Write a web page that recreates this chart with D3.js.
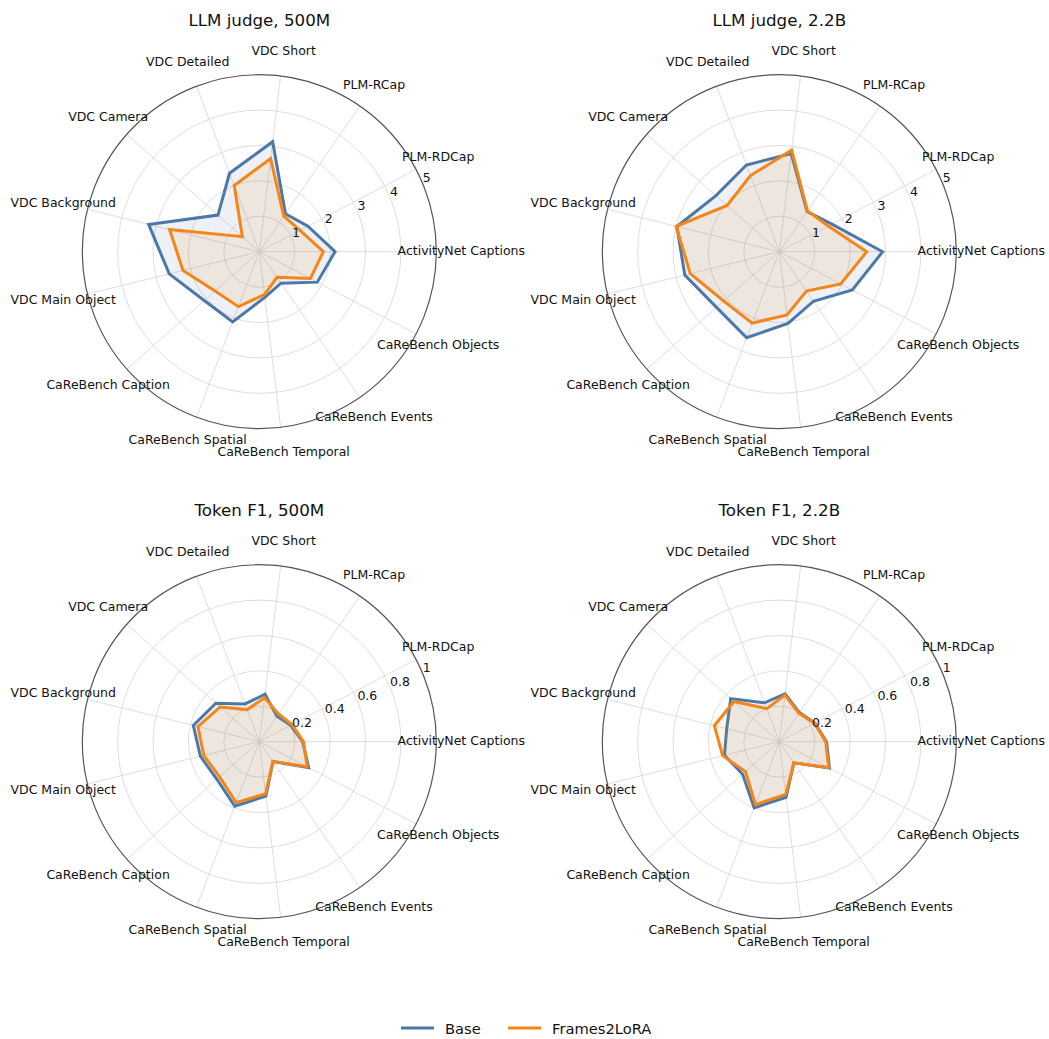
<!DOCTYPE html>
<html>
<head>
<meta charset="utf-8">
<script src="https://d3js.org/d3.v7.min.js"></script>
<style>
  body { margin: 0; background: #fff; }
  text { font-family: 'DejaVu Sans', sans-serif; fill: #111; }
</style>
</head>
<body>
<script>
// axis names, counter-clockwise from 3 o'clock
var axes = ["ActivityNet Captions", "PLM-RDCap", "PLM-RCap", "VDC Short", "VDC Detailed",
  "VDC Camera", "VDC Background", "VDC Main Object", "CaReBench Caption",
  "CaReBench Spatial", "CaReBench Temporal", "CaReBench Events", "CaReBench Objects"];

var seriesNames = ["Base", "Frames2LoRA"];

var llm500Base = [2.14, 1.55, 1.30, 3.13, 2.37, 1.56, 3.22, 2.62, 2.08, 2.12, 1.30, 1.08, 1.85];
var llm500F2L  = [1.81, 1.30, 1.22, 2.65, 2.00, 0.64, 2.61, 2.22, 1.67, 1.66, 1.22, 0.88, 1.63];
var llm22Base  = [2.92, 1.68, 1.38, 2.79, 2.62, 2.39, 2.98, 2.75, 2.37, 2.60, 2.04, 1.70, 2.33];
var llm22F2L   = [2.47, 1.56, 1.40, 2.89, 2.30, 1.97, 3.00, 2.59, 2.10, 2.16, 1.80, 1.35, 1.96];
var tok500Base = [0.245, 0.200, 0.175, 0.270, 0.228, 0.328, 0.384, 0.343, 0.320, 0.390, 0.310, 0.136, 0.315];
var tok500F2L  = [0.250, 0.208, 0.190, 0.250, 0.194, 0.296, 0.357, 0.323, 0.300, 0.368, 0.296, 0.135, 0.305];
var tok22Base  = [0.267, 0.227, 0.200, 0.273, 0.235, 0.367, 0.306, 0.319, 0.277, 0.400, 0.316, 0.145, 0.320];
var tok22F2L   = [0.262, 0.225, 0.195, 0.265, 0.200, 0.343, 0.378, 0.330, 0.255, 0.380, 0.300, 0.145, 0.315];

var llmTicks = [1, 2, 3, 4, 5];
var tokTicks = [0.2, 0.4, 0.6, 0.8, 1];

var panels = [
  {title: "LLM judge, 500M", cx: 259.3, cy: 251.7, max: 5, ticks: llmTicks, series: [llm500Base, llm500F2L]},
  {title: "LLM judge, 2.2B", cx: 779.3, cy: 251.7, max: 5, ticks: llmTicks, series: [llm22Base, llm22F2L]},
  {title: "Token F1, 500M",  cx: 259.3, cy: 741.7, max: 1, ticks: tokTicks, series: [tok500Base, tok500F2L]},
  {title: "Token F1, 2.2B",  cx: 779.3, cy: 741.7, max: 1, ticks: tokTicks, series: [tok22Base, tok22F2L]}
];

var colors = ["#4c78a8", "#f58518"];
var R = 177;
var width = 1049, height = 1039;

var svg = d3.select("body").append("svg")
  .attr("width", width)
  .attr("height", height);

var n = axes.length;
// math angle (ccw from east)
var theta = d3.scaleLinear().domain([0, n]).range([0, 2 * Math.PI]);

panels.forEach(function(p) {
  var r = d3.scaleLinear().domain([0, p.max]).range([0, R]);
  var g = svg.append("g").attr("transform", "translate(" + p.cx + "," + p.cy + ")");

  // rings
  g.selectAll(".ring").data(p.ticks.slice(0, -1)).enter().append("circle")
    .attr("r", function(d) { return r(d); })
    .attr("fill", "none")
    .attr("stroke", "#d9d9d9")
    .attr("stroke-width", 0.9);

  // spokes
  g.selectAll(".spoke").data(axes).enter().append("line")
    .attr("x1", 0).attr("y1", 0)
    .attr("x2", function(d, i) { return R * Math.cos(theta(i)); })
    .attr("y2", function(d, i) { return -R * Math.sin(theta(i)); })
    .attr("stroke", "#d9d9d9")
    .attr("stroke-width", 0.9);

  // series
  var radial = d3.lineRadial()
    .angle(function(d, i) { return Math.PI / 2 - theta(i); })
    .radius(function(d) { return r(d); })
    .curve(d3.curveLinearClosed);

  p.series.forEach(function(vals, k) {
    g.append("path")
      .attr("d", radial(vals))
      .attr("fill", colors[k])
      .attr("fill-opacity", 0.1)
      .attr("stroke", "none");
    g.append("path")
      .attr("d", radial(vals))
      .attr("fill", "none")
      .attr("stroke", colors[k])
      .attr("stroke-width", 3)
      .attr("stroke-linejoin", "miter");
  });

  // outer spine
  g.append("circle").attr("r", R)
    .attr("fill", "none")
    .attr("stroke", "#555")
    .attr("stroke-width", 1.2);

  // radial tick labels at 22.5 deg
  var a = 22.5 * Math.PI / 180;
  g.selectAll(".rlab").data(p.ticks).enter().append("text")
    .attr("x", function(d) { return r(d) * Math.cos(a); })
    .attr("y", function(d) { return -r(d) * Math.sin(a) - 1.5; })
    .attr("text-anchor", "start")
    .style("font-size", "12.5px")
    .text(function(d) { return d3.format("~g")(d); });

  // axis labels
  g.selectAll(".alab").data(axes).enter().append("text")
    .attr("x", function(d, i) { return 202 * Math.cos(theta(i)); })
    .attr("y", function(d, i) { return -202 * Math.sin(theta(i)) - 1; })
    .attr("text-anchor", "middle")
    .attr("dominant-baseline", "central")
    .style("font-size", "12.5px")
    .text(function(d) { return d; });

  // title
  g.append("text")
    .attr("x", 0)
    .attr("y", -225.7)
    .attr("text-anchor", "middle")
    .style("font-size", "16.7px")
    .text(p.title);
});

// legend
var legend = svg.append("g");
var legX = [401, 508];
seriesNames.forEach(function(name, k) {
  legend.append("line")
    .attr("x1", legX[k]).attr("x2", legX[k] + 33)
    .attr("y1", 1028).attr("y2", 1028)
    .attr("stroke", colors[k])
    .attr("stroke-width", 3);
  legend.append("text")
    .attr("x", legX[k] + 44)
    .attr("y", 1028)
    .attr("dominant-baseline", "central")
    .style("font-size", "14.7px")
    .text(name);
});
</script>
</body>
</html>
